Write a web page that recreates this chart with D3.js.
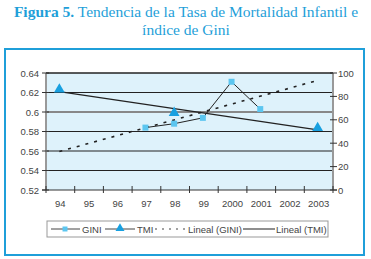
<!DOCTYPE html>
<html>
<head>
<meta charset="utf-8">
<script src="https://cdn.jsdelivr.net/npm/d3@7"></script>
<style>
  body { margin: 0; background: #fff; }
  text { font-family: "Liberation Sans", Arial, sans-serif; fill: #444; }
</style>
</head>
<body>
<div id="chart"></div>
<script>
var years = ["94", "95", "96", "97", "98", "99", "2000", "2001", "2002", "2003"];
var gini = [null, null, null, 0.584, 0.588, 0.594, 0.631, 0.603, null, null];
var tmi = [86, null, null, null, 66, null, null, null, null, 53];
var giniTicks = [0.52, 0.54, 0.56, 0.58, 0.6, 0.62, 0.64];
var tmiTicks = [0, 20, 40, 60, 80, 100];

var width = 371, height = 259;
var plot = {left: 46, right: 333, top: 73, bottom: 190};
var blue = "#1f9fd9";

var svg = d3.select("#chart")
  .append("svg")
    .attr("width", width)
    .attr("height", height);

// title
var title = svg.append("text")
    .attr("text-anchor", "middle")
    .style("font-family", "'Liberation Serif', 'Times New Roman', serif")
    .style("font-size", "15.5px");
var t1 = title.append("tspan").attr("x", 186).attr("y", 17);
t1.append("tspan").style("font-weight", 700).style("fill", blue).text("Figura 5.");
t1.append("tspan").style("fill", blue).text(" Tendencia de la Tasa de Mortalidad Infantil e");
title.append("tspan").attr("x", 186).attr("y", 35).style("fill", blue).text("índice de Gini");

// frame
svg.append("rect")
    .attr("x", 5).attr("y", 49)
    .attr("width", 359).attr("height", 206)
    .attr("fill", "none")
    .attr("stroke", blue)
    .attr("stroke-width", 2);

var x = d3.scaleBand()
    .domain(years)
    .range([plot.left, plot.right]);

var yL = d3.scaleLinear()
    .domain([0.52, 0.64])
    .range([plot.bottom, plot.top]);

var yR = d3.scaleLinear()
    .domain([0, 100])
    .range([plot.bottom, plot.top]);

// plot background
svg.append("rect")
    .attr("x", plot.left).attr("y", plot.top)
    .attr("width", plot.right - plot.left)
    .attr("height", plot.bottom - plot.top)
    .attr("fill", "#def2fb");

// gridlines
svg.append("g")
  .selectAll("line")
  .data(giniTicks.slice(1))
  .enter().append("line")
    .attr("x1", plot.left).attr("x2", plot.right)
    .attr("y1", function(d) { return yL(d); })
    .attr("y2", function(d) { return yL(d); })
    .attr("stroke", function(d) { return d === 0.6 ? "#888" : "#222"; })
    .attr("stroke-width", function(d) { return d === 0.6 ? 2 : 1; });

// axes
svg.append("line")
    .attr("x1", plot.left).attr("x2", plot.left)
    .attr("y1", plot.top).attr("y2", plot.bottom)
    .attr("stroke", "#999").attr("stroke-width", 2);
svg.append("line")
    .attr("x1", plot.right).attr("x2", plot.right)
    .attr("y1", plot.top).attr("y2", plot.bottom)
    .attr("stroke", "#999").attr("stroke-width", 2);
svg.append("line")
    .attr("x1", plot.left - 4).attr("x2", plot.right + 4)
    .attr("y1", plot.bottom).attr("y2", plot.bottom)
    .attr("stroke", "#333").attr("stroke-width", 1);

var leftAxis = svg.append("g");
leftAxis.selectAll("line")
  .data(giniTicks)
  .enter().append("line")
    .attr("x1", plot.left - 4).attr("x2", plot.left + 3)
    .attr("y1", function(d) { return yL(d); })
    .attr("y2", function(d) { return yL(d); })
    .attr("stroke", "#333");
leftAxis.selectAll("text")
  .data(giniTicks)
  .enter().append("text")
    .attr("x", 39)
    .attr("y", function(d) { return yL(d) + 3.5; })
    .attr("text-anchor", "end")
    .style("font-size", "9.5px")
    .text(function(d) { return d === 0.6 ? "0.6" : d3.format(".2f")(d); });

var rightAxis = svg.append("g");
rightAxis.selectAll("line")
  .data(tmiTicks)
  .enter().append("line")
    .attr("x1", plot.right - 3).attr("x2", plot.right + 4)
    .attr("y1", function(d) { return yR(d); })
    .attr("y2", function(d) { return yR(d); })
    .attr("stroke", "#333");
rightAxis.selectAll("text")
  .data(tmiTicks)
  .enter().append("text")
    .attr("x", 338)
    .attr("y", function(d) { return yR(d) + 3.5; })
    .style("font-size", "9.5px")
    .text(function(d) { return d; });

var bottomAxis = svg.append("g");
bottomAxis.selectAll("line")
  .data(years.concat(["end"]))
  .enter().append("line")
    .attr("x1", function(d, i) { return plot.left + i * x.bandwidth(); })
    .attr("x2", function(d, i) { return plot.left + i * x.bandwidth(); })
    .attr("y1", plot.bottom - 4).attr("y2", plot.bottom + 3)
    .attr("stroke", "#333");
bottomAxis.selectAll("text")
  .data(years)
  .enter().append("text")
    .attr("x", function(d) { return x(d) + x.bandwidth() / 2; })
    .attr("y", 207)
    .attr("text-anchor", "middle")
    .style("font-size", "9.5px")
    .text(function(d) { return d; });

var cx = function(d, i) { return x(years[i]) + x.bandwidth() / 2 - 1; };

// linear trend over the points that exist
function trend(values) {
  var pts = values.map(function(v, i) { return [i, v]; })
    .filter(function(p) { return p[1] != null; });
  var mx = d3.mean(pts, function(p) { return p[0]; });
  var my = d3.mean(pts, function(p) { return p[1]; });
  var sxy = d3.sum(pts, function(p) { return (p[0] - mx) * (p[1] - my); });
  var sxx = d3.sum(pts, function(p) { return (p[0] - mx) * (p[0] - mx); });
  var b = sxy / sxx, a = my - b * mx;
  return [0, years.length - 1].map(function(i) { return [i, a + b * i]; });
}

var giniTrend = trend(gini);
var tmiTrend = trend(tmi);

svg.append("path")
    .datum(giniTrend)
    .attr("fill", "none")
    .attr("stroke", "#222")
    .attr("stroke-width", 1.6)
    .attr("stroke-dasharray", "3,6")
    .attr("d", d3.line()
      .x(function(d) { return cx(null, d[0]); })
      .y(function(d) { return yL(d[1]); }));

svg.append("path")
    .datum(tmiTrend)
    .attr("fill", "none")
    .attr("stroke", "#222")
    .attr("stroke-width", 1.4)
    .attr("d", d3.line()
      .x(function(d) { return cx(null, d[0]); })
      .y(function(d) { return yR(d[1]); }));

// GINI series
svg.append("path")
    .datum(gini)
    .attr("fill", "none")
    .attr("stroke", "#222")
    .attr("stroke-width", 1)
    .attr("d", d3.line()
      .defined(function(d) { return d != null; })
      .x(cx)
      .y(function(d) { return yL(d); }));

svg.append("g")
  .selectAll("path")
  .data(gini.map(function(v, i) { return {v: v, i: i}; }).filter(function(d) { return d.v != null; }))
  .enter().append("path")
    .attr("transform", function(d) { return "translate(" + cx(null, d.i) + "," + yL(d.v) + ")"; })
    .attr("d", d3.symbol().type(d3.symbolSquare).size(36))
    .attr("fill", "#5cc6f0");

// TMI series
svg.append("g")
  .selectAll("path")
  .data(tmi.map(function(v, i) { return {v: v, i: i}; }).filter(function(d) { return d.v != null; }))
  .enter().append("path")
    .attr("transform", function(d) { return "translate(" + cx(null, d.i) + "," + yR(d.v) + ")"; })
    .attr("d", d3.symbol().type(d3.symbolTriangle).size(50))
    .attr("fill", "#18a0e0");

// top border line
svg.append("line")
    .attr("x1", plot.left).attr("x2", plot.right)
    .attr("y1", plot.top).attr("y2", plot.top)
    .attr("stroke", "#222");

// legend
var legend = svg.append("g");
legend.append("rect")
    .attr("x", 47).attr("y", 221)
    .attr("width", 281).attr("height", 16)
    .attr("fill", "#fff")
    .attr("stroke", "#999");

var ly = 229;
legend.append("line").attr("x1", 51).attr("x2", 80).attr("y1", ly).attr("y2", ly).attr("stroke", "#444");
legend.append("path")
    .attr("transform", "translate(65," + ly + ")")
    .attr("d", d3.symbol().type(d3.symbolSquare).size(25))
    .attr("fill", "#5cc6f0");
legend.append("text").attr("x", 82).attr("y", ly + 3.5).style("font-size", "9.5px").text("GINI");

legend.append("line").attr("x1", 105).attr("x2", 135).attr("y1", ly).attr("y2", ly).attr("stroke", "#444");
legend.append("path")
    .attr("transform", "translate(120," + (ly - 0.5) + ")")
    .attr("d", d3.symbol().type(d3.symbolTriangle).size(35))
    .attr("fill", "#18a0e0");
legend.append("text").attr("x", 137).attr("y", ly + 3.5).style("font-size", "9.5px").text("TMI");

legend.append("line").attr("x1", 155).attr("x2", 186).attr("y1", ly).attr("y2", ly)
    .attr("stroke", "#444").attr("stroke-width", 1.2).attr("stroke-dasharray", "2,5");
legend.append("text").attr("x", 188).attr("y", ly + 3.5).style("font-size", "9.5px").text("Lineal (GINI)");

legend.append("line").attr("x1", 243).attr("x2", 275).attr("y1", ly).attr("y2", ly)
    .attr("stroke", "#444").attr("stroke-width", 1.2);
legend.append("text").attr("x", 276).attr("y", ly + 3.5).style("font-size", "9.5px").text("Lineal (TMI)");
</script>
</body>
</html>
